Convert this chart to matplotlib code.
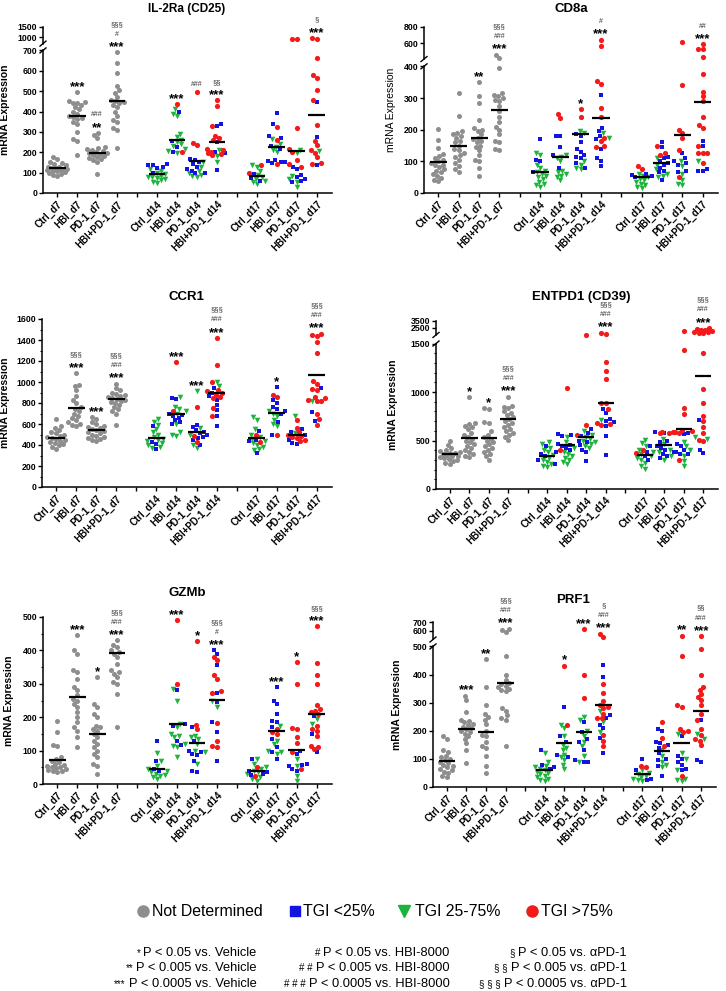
"""
Gene expression scatter panels (IL-2Ra, CD8a, CCR1, ENTPD1, GZMb, PRF1)
"""
import numpy as np
import matplotlib
matplotlib.use("Agg")
import matplotlib.pyplot as plt
from matplotlib.lines import Line2D

plt.rcParams['font.family'] = ['Liberation Sans', 'DejaVu Sans']

GRAY = "#8e8e8e"
BLUE = "#1414e0"
GREEN = "#1cb43c"
RED = "#f41a1a"

groups = ["Ctrl_d7", "HBI_d7", "PD-1_d7", "HBI+PD-1_d7",
          "Ctrl_d14", "HBI_d14", "PD-1_d14", "HBI+PD-1_d14",
          "Ctrl_d17", "HBI_d17", "PD-1_d17", "HBI+PD-1_d17"]
xpos = [1, 2, 3, 4, 6, 7, 8, 9, 11, 12, 13, 14]

# ---------------- IL-2Ra (CD25)
il2ra_d7 = [
    [175, 165, 150, 145, 140, 135, 130, 128, 125, 122, 120, 118, 115, 112, 110, 108, 105, 100, 95, 90, 85],
    [495, 450, 445, 440, 440, 430, 420, 410, 400, 390, 380, 375, 370, 365, 350, 340, 300, 265, 255, 185],
    [295, 285, 270, 225, 220, 215, 210, 205, 200, 195, 195, 190, 185, 180, 175, 170, 165, 160, 150, 95],
    [690, 640, 590, 525, 505, 490, 470, 455, 450, 445, 440, 430, 420, 400, 380, 360, 350, 320, 310, 220],
]
il2ra_blue = [
    [140, 138, 135, 130, 125, 100],
    [400, 255, 225, 200],
    [165, 160, 150, 140, 130, 120, 110, 100, 100],
    [340, 330, 250, 200, 195, 115],
    [95, 75, 60],
    [395, 340, 280, 270, 230, 215, 160, 155, 150, 150, 145],
    [130, 120, 90, 80, 70, 60, 55],
    [445, 275, 135],
]
il2ra_green = [
    [118, 110, 100, 92, 85, 80, 78, 72, 68, 62, 55, 48],
    [410, 390, 380, 290, 275, 262, 250, 240, 230, 215, 205, 195],
    [150, 130, 110, 100, 90, 85, 80],
    [210, 180, 150],
    [135, 130, 110, 90, 80, 70, 60, 55, 45],
    [265, 240, 225, 210, 200],
    [210, 195, 85, 70, 55, 30],
    [205],
]
il2ra_red = [
    [],
    [435, 200],
    [495, 245, 235],
    [455, 425, 330, 280, 270, 260, 215, 210, 200, 195, 190, 185],
    [135, 100],
    [325, 260, 140],
    [935, 930, 320, 215, 200, 160, 140, 130],
    [960, 945, 665, 580, 565, 505, 455, 335, 255, 235, 210, 195, 175, 145, 140],
]
il2ra_mean = [122, 378, 197, 450, 92, 258, 157, 250, 82, 225, 205, 382]
il2ra_star = ["", "***", "**", "***", "", "***", "", "***", "", "", "", "***"]
il2ra_hash = ["", "", "###", "#", "", "", "###", "", "", "", "", ""]
il2ra_sect = ["", "", "", "§§§", "", "", "", "§§", "", "", "", "§"]

# ---------------- CD8a
cd8a_d7 = [
    [202, 166, 142, 123, 118, 110, 105, 100, 95, 90, 88, 82, 75, 70, 65, 60, 55, 48, 42, 37],
    [315, 243, 195, 190, 185, 180, 175, 165, 160, 150, 140, 135, 125, 120, 115, 105, 95, 85, 75, 65],
    [350, 305, 285, 230, 205, 200, 195, 185, 175, 170, 165, 160, 150, 145, 135, 120, 105, 100, 80, 55],
    [455, 415, 395, 315, 310, 305, 300, 295, 290, 275, 260, 240, 225, 210, 200, 185, 165, 160, 140, 135],
]
cd8a_blue = [
    [172, 105, 100, 65],
    [180, 180, 145, 120, 80],
    [185, 180, 160, 140, 130, 120, 115, 110, 95, 80],
    [310, 205, 195, 180, 170, 140, 110, 100, 85],
    [60, 58, 55, 50],
    [160, 145, 115, 110, 100, 95, 90, 80, 70, 65, 40],
    [125, 110, 100, 95, 90, 70, 65],
    [165, 150, 75, 70, 70],
]
cd8a_green = [
    [125, 120, 90, 80, 70, 65, 60, 55, 50, 45, 35, 30, 25, 20],
    [120, 115, 110, 100, 70, 65, 60, 55, 50, 40],
    [195, 190, 100, 90, 80, 75],
    [190, 175],
    [60, 55, 50, 45, 40, 35, 30, 25, 20, 15],
    [110, 90, 75, 60, 55, 50],
    [100, 85, 60, 40, 30, 25],
    [100],
]
cd8a_red = [
    [],
    [250, 238],
    [265, 240],
    [640, 557, 355, 345, 270, 240, 175, 165, 150, 145],
    [85, 75],
    [150, 125, 120],
    [612, 340, 200, 190, 175, 135, 50],
    [583, 525, 520, 420, 375, 320, 305, 290, 240, 215, 205, 150, 125, 125, 125, 95],
]
cd8a_mean = [97, 147, 173, 263, 65, 115, 186, 238, 50, 95, 183, 288]
cd8a_star = ["", "", "**", "***", "", "", "*", "***", "", "", "", "***"]
cd8a_hash = ["", "", "", "###", "", "", "", "#", "", "", "", "##"]
cd8a_sect = ["", "", "", "§§§", "", "", "", "", "", "", "", ""]

# ---------------- CCR1
ccr1_d7 = [
    [650, 580, 560, 540, 520, 510, 500, 490, 480, 470, 460, 450, 440, 430, 420, 410, 400, 380, 365],
    [1085, 975, 965, 925, 870, 830, 800, 760, 740, 720, 700, 680, 660, 640, 620, 600, 590, 580],
    [665, 650, 620, 600, 580, 570, 560, 550, 540, 530, 520, 510, 500, 490, 480, 470, 460, 450, 440],
    [985, 940, 920, 900, 890, 880, 870, 860, 850, 840, 830, 820, 810, 800, 780, 760, 740, 720, 700, 595],
]
ccr1_blue = [
    [580, 430, 410, 360],
    [850, 840, 700, 690, 680, 660, 640, 620, 600],
    [590, 570, 540, 520, 510, 500, 480, 470, 450, 400],
    [940, 900, 870, 830, 780, 730, 680, 585],
    [530, 450, 440, 320],
    [950, 830, 800, 760, 740, 720, 700, 620, 500],
    [550, 520, 500, 450, 420, 410],
    [940, 710, 630],
]
ccr1_green = [
    [650, 620, 590, 550, 520, 500, 480, 460, 450, 440, 420, 400, 380, 370],
    [860, 760, 740, 720, 700, 600, 520, 500, 490],
    [910, 560, 500, 400, 370],
    [1000, 960],
    [670, 640, 550, 500, 480, 460, 440, 420, 400, 380, 360, 355],
    [720, 700, 680, 640, 600, 580],
    [680, 510],
    [820],
]
ccr1_red = [
    [],
    [1190, 720],
    [765, 490, 430],
    [1420, 1165, 1000, 920, 910, 900, 880, 860, 850, 750, 680],
    [500, 430],
    [880, 860, 495],
    [640, 560, 520, 500, 490, 480, 470, 450, 440],
    [1460, 1450, 1440, 1385, 1280, 1005, 980, 930, 920, 860, 850, 830, 820, 820, 700, 650, 590],
]
ccr1_mean = [470, 755, 540, 835, 462, 700, 525, 895, 462, 703, 495, 1065]
ccr1_star = ["", "***", "***", "***", "", "***", "***", "***", "", "*", "", "***"]
ccr1_hash = ["", "", "", "###", "", "", "", "###", "", "", "", "###"]
ccr1_sect = ["", "§§§", "", "§§§", "", "", "", "§§§", "", "", "", "§§§"]

# ---------------- ENTPD1 (CD39)
entpd1_d7 = [
    [490, 450, 420, 400, 390, 380, 375, 370, 360, 350, 345, 340, 330, 320, 310, 300, 290, 270, 255],
    [945, 680, 670, 650, 640, 620, 580, 560, 540, 520, 500, 480, 460, 440, 420, 400, 380, 360, 340, 330],
    [830, 820, 690, 680, 600, 560, 540, 520, 500, 480, 460, 440, 420, 400, 380, 360, 340, 300],
    [950, 860, 850, 830, 800, 780, 760, 740, 720, 700, 680, 660, 640, 620, 600, 580, 560, 540, 510],
]
entpd1_blue = [
    [440, 380, 360, 340, 300, 260],
    [570, 560, 550, 460, 450, 440, 420, 400],
    [620, 580, 550, 500, 480, 450, 400, 380, 290],
    [820, 780, 720, 700, 690, 650, 550, 350],
    [440, 380, 340, 300],
    [590, 580, 500, 480, 440, 420, 400, 380, 360, 340, 320],
    [580, 570, 460, 440, 400, 380, 360, 360],
    [710, 400, 370],
]
entpd1_green = [
    [480, 460, 420, 400, 380, 350, 320, 300, 280, 260, 240, 230],
    [540, 480, 420, 380, 360, 340, 320, 300, 280, 260],
    [600, 560, 540, 520, 500, 480, 460, 440, 420],
    [710],
    [510, 470, 440, 400, 380, 360, 340, 320, 300, 270, 240, 210],
    [520, 460, 400, 380, 340, 300],
    [480, 440, 400, 340, 290, 240],
    [540, 520],
]
entpd1_red = [
    [],
    [1040, 400],
    [1560, 660, 560],
    [1800, 1600, 1310, 1220, 1130, 890, 890, 820, 680, 670, 660],
    [400, 370],
    [590, 590, 580, 580],
    [2100, 1430, 840, 770, 610, 600, 590, 580, 300],
    [2500, 2300, 2200, 2150, 2050, 1950, 1900, 1850, 1750, 1400, 1030, 890, 750, 700, 640, 580, 510, 500],
]
entpd1_mean = [365, 525, 525, 725, 340, 450, 535, 890, 350, 450, 615, 1170]
entpd1_star = ["", "*", "*", "***", "", "", "", "***", "", "", "", "***"]
entpd1_hash = ["", "", "", "###", "", "", "", "###", "", "", "", "###"]
entpd1_sect = ["", "", "", "§§§", "", "", "", "§§§", "", "", "", "§§§"]

# ---------------- GZMb
gzmb_d7 = [
    [188, 157, 117, 115, 80, 75, 70, 65, 60, 58, 55, 52, 50, 48, 45, 42, 40, 38, 35],
    [445, 400, 390, 340, 335, 315, 290, 280, 265, 255, 250, 240, 230, 215, 200, 185, 170, 160, 140, 110],
    [320, 240, 230, 210, 200, 175, 170, 165, 160, 150, 140, 130, 120, 110, 100, 90, 80, 60, 55, 30],
    [430, 415, 410, 400, 395, 390, 380, 360, 340, 335, 330, 320, 305, 300, 270, 170],
]
gzmb_blue = [
    [130, 68, 45, 40],
    [282, 180, 175, 130, 118],
    [170, 130, 100, 95, 90, 88, 70, 40, 35],
    [400, 390, 355, 272, 245, 185, 155, 70],
    [75, 40, 35, 30, 28],
    [290, 250, 240, 210, 190, 185, 170, 135, 110, 95, 75],
    [100, 90, 60, 58, 55, 45, 40],
    [205, 150, 95],
]
gzmb_green = [
    [92, 70, 55, 45, 40, 35, 30, 28, 25, 20, 15],
    [285, 250, 180, 170, 150, 145, 140, 120, 115, 110, 80],
    [145, 140, 135, 120, 100, 95, 60],
    [250, 230],
    [75, 60, 50, 45, 40, 35, 30, 20, 15, 10],
    [175, 130, 120, 100, 95, 90],
    [75, 55, 25, 10],
    [195, 180],
]
gzmb_red = [
    [],
    [490, 298],
    [428, 178, 165],
    [380, 370, 325, 315, 278, 272, 182, 130, 115, 110],
    [50, 25],
    [165, 155, 150],
    [365, 298, 168, 165, 140, 122, 95, 45],
    [472, 362, 325, 300, 238, 225, 220, 215, 210, 175, 165, 160, 145, 115, 110, 105],
]
gzmb_mean = [72, 260, 150, 393, 46, 180, 122, 252, 40, 160, 102, 210]
gzmb_star = ["", "***", "*", "***", "", "***", "*", "***", "", "***", "*", "***"]
gzmb_hash = ["", "", "", "###", "", "", "", "#", "", "", "", ""]
gzmb_sect = ["", "", "", "§§§", "", "", "", "§§§", "", "", "", "§§§"]

# ---------------- PRF1
prf1_d7 = [
    [180, 170, 130, 125, 110, 105, 100, 95, 90, 85, 80, 75, 70, 65, 60, 55, 50, 40, 35],
    [325, 310, 265, 240, 235, 230, 225, 220, 215, 210, 205, 200, 195, 190, 180, 170, 155, 130, 85],
    [455, 355, 290, 260, 250, 240, 225, 200, 185, 180, 160, 145, 140, 110, 75, 50],
    [623, 611, 588, 465, 400, 380, 370, 365, 360, 355, 350, 345, 340, 280, 270, 255, 245, 240, 145],
]
prf1_blue = [
    [130, 80, 70, 65],
    [285, 180, 160, 115, 105],
    [230, 195, 170, 160, 130, 95, 90, 88],
    [435, 390, 255, 245, 220, 210, 175, 120],
    [100, 60, 30, 25],
    [205, 200, 160, 155, 150, 140, 120, 100, 95, 75, 40],
    [180, 110, 100, 90, 80, 65, 60],
    [240, 95, 90],
]
prf1_green = [
    [120, 90, 75, 70, 65, 60, 55, 50, 45, 40, 35, 30, 25, 20],
    [220, 210, 180, 150, 140, 130, 115, 105, 95, 80, 65],
    [250, 240, 200, 180, 160, 145, 110, 90],
    [270, 230, 195],
    [60, 50, 45, 40, 35, 30, 25, 20],
    [130, 110, 90, 80, 70],
    [190, 120, 100, 60, 30, 25, 20],
    [190, 170],
]
prf1_red = [
    [],
    [432, 222],
    [615, 398, 318],
    [565, 531, 365, 335, 305, 290, 285, 280, 260, 245, 245, 185, 165, 145],
    [75, 70],
    [230, 175, 145],
    [542, 465, 290, 285, 205, 200, 195, 40],
    [538, 490, 400, 355, 345, 330, 320, 310, 290, 260, 240, 205, 185, 170, 165, 150],
]
prf1_mean = [92, 205, 197, 370, 62, 157, 197, 290, 48, 127, 158, 270]
prf1_star = ["", "***", "**", "***", "", "*", "***", "***", "", "", "**", "***"]
prf1_hash = ["", "", "", "###", "", "", "", "###", "", "", "", "###"]
prf1_sect = ["", "", "", "§§§", "", "", "", "§", "", "", "", "§§"]

legend_labels = ["Not Determined", "TGI <25%", "TGI 25-75%", "TGI >75%"]
note_marks = [["*", "**", "***"], ["#", "# #", "# # #"], ["§", "§ §", "§ § §"]]
note_texts = [["P < 0.05 vs. Vehicle", "P < 0.005 vs. Vehicle", "P < 0.0005 vs. Vehicle"],
              ["P < 0.05 vs. HBI-8000", "P < 0.005 vs. HBI-8000", "P < 0.0005 vs. HBI-8000"],
              ["P < 0.05 vs. αPD-1", "P < 0.005 vs. αPD-1", "P < 0.0005 vs. αPD-1"]]


W, H = 726, 991
fig = plt.figure(figsize=(W / 100, H / 100), dpi=100)


def px_rect(left, right, bottom, top):
    return [left / W, 1 - bottom / H, (right - left) / W, (bottom - top) / H]


def make_scale(lo, top, f1, f2):
    up = (1 - f2) / (top - lo)
    xp = np.array([-10 * top, 0, lo, lo * (1 + 1e-9), top, 10 * top])
    fp = np.array([-10 * top * f1 / lo, 0, f1, f2, 1, 1 + 9 * top * up])
    return (lambda v: np.interp(v, xp, fp), lambda d: np.interp(d, fp, xp))


def swarm(ax, x0, vals, diam=4.4, maxoff=10):
    if len(vals) == 0:
        return np.array([])
    pts = ax.transData.transform(np.column_stack([np.full(len(vals), x0), vals]))
    ys = pts[:, 1]
    ppu = ax.transData.transform([[1, 0], [2, 0]])
    ppu = ppu[1, 0] - ppu[0, 0]
    cands = np.arange(-maxoff, maxoff + 0.01, 0.5)
    cands = cands[np.argsort(np.abs(cands), kind='stable')]
    placed = []
    offs = np.zeros(len(vals))
    for i in np.argsort(ys):
        best, bestd = 0.0, -1.0
        for c in cands:
            d = min((np.hypot(c - px, ys[i] - py) for px, py in placed), default=99)
            if d >= diam:
                best = c
                break
            if d > bestd:
                best, bestd = c, d
        offs[i] = best
        placed.append((best, ys[i]))
    return x0 + offs / ppu


def panel(rect, title, title_xy, d7, blue, green, red, mean, star, hsh, sect,
          top, yticks, brk=None, minor=None, tsize=9.5, lab_x=-0.11,
          lab_weight='bold'):
    ax = fig.add_axes(px_rect(*rect))
    ax.set_xlim(0.29, 14.76)
    if brk is not None:
        fwd, inv = make_scale(*brk)
        ax.set_yscale('function', functions=(fwd, inv))
    ax.set_ylim(0, top)

    for s in ['top', 'right']:
        ax.spines[s].set_visible(False)
    ax.spines['bottom'].set_linewidth(1.1)
    ax.spines['left'].set_linewidth(1.1)
    if brk is not None:
        lo, _, f1, f2 = brk
        ax.spines['left'].set_visible(False)
        tr = ax.transAxes
        ax.plot([0, 0], [0, f1], color='k', lw=1.1, transform=tr, clip_on=False)
        ax.plot([0, 0], [f2, 1], color='k', lw=1.1, transform=tr, clip_on=False)
        dx, dy = 3 / ax.bbox.width, 2.5 / ax.bbox.height
        for f in (f1, f2):
            ax.plot([-dx, dx], [f - dy, f + dy], color='k', lw=1.0,
                    transform=tr, clip_on=False)

    ax.set_yticks(yticks)
    ax.set_yticklabels([str(t) for t in yticks])
    if minor is not None:
        ax.set_yticks(minor, minor=True)
    ax.tick_params(axis='y', which='major', length=3, width=1, pad=1,
                   labelsize=6.3)
    ax.tick_params(axis='y', which='minor', length=1.8, width=0.8)
    ax.set_xticks(range(1, 15))
    labels = [''] * 14
    for g, x in zip(groups, xpos):
        labels[x - 1] = g
    ax.set_xticklabels(labels, rotation=45, ha='right',
                       rotation_mode='anchor')
    ax.tick_params(axis='x', length=3, width=1, pad=1.5, labelsize=7)
    for t in ax.get_xticklabels() + ax.get_yticklabels():
        t.set_fontweight('bold')

    ax.set_ylabel("mRNA Expression", fontsize=7.5, fontweight=lab_weight)
    ax.yaxis.set_label_coords(lab_x, 0.5)
    fig.text(title_xy[0] / W, 1 - title_xy[1] / H, title, ha='center',
             va='center', fontsize=tsize, fontweight='bold')

    styles = {'g': (GRAY, 'o', 13), 'v': (GREEN, 'v', 16),
              'b': (BLUE, 's', 12), 'r': (RED, 'o', 14)}
    for i, x0 in enumerate(xpos):
        if i < 4:
            cats = [(v, 'g') for v in d7[i]]
        else:
            j = i - 4
            cats = ([(v, 'v') for v in green[j]] + [(v, 'b') for v in blue[j]]
                    + [(v, 'r') for v in red[j]])
        vals = np.array([c[0] for c in cats], dtype=float)
        kinds = np.array([c[1] for c in cats])
        xs = swarm(ax, x0, vals)
        for k in ['g', 'v', 'b', 'r']:
            m = kinds == k
            if m.any():
                col, mk, sz = styles[k]
                ax.scatter(xs[m], vals[m], s=sz, marker=mk, color=col,
                           linewidths=0, zorder=3, clip_on=False)
        ax.hlines(mean[i], x0 - 0.42, x0 + 0.42, color='k', lw=1.6, zorder=5)

        # significance marks stacked above the highest point
        vmax = vals.max()
        k = 0
        for txt, fs, w, col in [(star[i], 9.5, 'bold', 'k'),
                                (hsh[i], 5, 'normal', '#333333'),
                                (sect[i], 5.5, 'normal', '#333333')]:
            if not txt:
                continue
            off = (8 + 10 * k) * 0.72
            if fs > 9:
                off -= 2.0
            ax.annotate(txt, (x0, vmax), xytext=(0, off),
                        textcoords='offset points', ha='center', va='center',
                        fontsize=fs, fontweight=w, color=col,
                        annotation_clip=False)
            k += 1
    return ax


panel((43, 332, 193, 27), "IL-2Ra (CD25)", (187, 9), il2ra_d7, il2ra_blue,
      il2ra_green, il2ra_red, il2ra_mean, il2ra_star, il2ra_hash, il2ra_sect,
      1500, [0, 100, 200, 300, 400, 500, 600, 700, 1000, 1500],
      brk=(700, 1500, 0.859, 0.90), tsize=8.5, lab_x=-0.114)
panel((424, 718, 193, 27), "CD8a", (571, 9), cd8a_d7, cd8a_blue, cd8a_green,
      cd8a_red, cd8a_mean, cd8a_star, cd8a_hash, cd8a_sect,
      800, [0, 100, 200, 300, 400, 600, 800],
      brk=(400, 800, 0.763, 0.807), lab_x=-0.095, lab_weight='normal')
panel((42, 332, 487, 319), "CCR1", (186, 297), ccr1_d7, ccr1_blue, ccr1_green,
      ccr1_red, ccr1_mean, ccr1_star, ccr1_hash, ccr1_sect,
      1600, list(range(0, 1601, 200)), minor=list(range(100, 1600, 200)),
      lab_x=-0.112)
panel((436, 718, 489, 321), "ENTPD1 (CD39)", (581, 297), entpd1_d7,
      entpd1_blue, entpd1_green, entpd1_red, entpd1_mean, entpd1_star,
      entpd1_hash, entpd1_sect, 3500, [0, 500, 1000, 1500, 2500, 3500],
      brk=(1500, 3500, 0.866, 0.917),
      minor=[v for v in range(100, 1500, 100) if v % 500], lab_x=-0.135)
panel((43, 332, 784, 617), "GZMb", (187, 593), gzmb_d7, gzmb_blue, gzmb_green,
      gzmb_red, gzmb_mean, gzmb_star, gzmb_hash, gzmb_sect,
      500, list(range(0, 501, 100)), minor=list(range(50, 500, 100)),
      lab_x=-0.10)
panel((433, 716, 787, 622), "PRF1", (573, 600), prf1_d7, prf1_blue,
      prf1_green, prf1_red, prf1_mean, prf1_star, prf1_hash, prf1_sect,
      700, [0, 100, 200, 300, 400, 500, 600, 700],
      brk=(500, 700, 0.852, 0.894), lab_x=-0.11)

# legend row, placed by hand
leg_y = 1 - 911 / H
leg_style = [(GRAY, 'o', 8), (BLUE, 's', 7.5), (GREEN, 'v', 8.5), (RED, 'o', 8)]
for (col, mk, ms), lab, mx, tx in zip(leg_style, legend_labels,
                                     [143, 294.5, 404, 532],
                                     [152, 303, 415, 541]):
    fig.add_artist(Line2D([mx / W], [leg_y], transform=fig.transFigure,
                          ls='', marker=mk, ms=ms, color=col))
    fig.text(tx / W, leg_y, lab, ha='left', va='center', fontsize=11.4)

# footnotes
renderer = fig.canvas.get_renderer()
for xr, marks, texts in zip([256.7, 449.6, 626.8], note_marks, note_texts):
    for r, (pre, txt) in enumerate(zip(marks, texts)):
        y = 1 - (952.7 + 15.6 * r) / H
        t = fig.text(xr / W, y, txt, ha='right', va='center', fontsize=9.3)
        bb = t.get_window_extent(renderer)
        fig.text((bb.x0 - 3) / W, y, pre, ha='right', va='center', fontsize=7)

fig.savefig("out.png", dpi=100)
